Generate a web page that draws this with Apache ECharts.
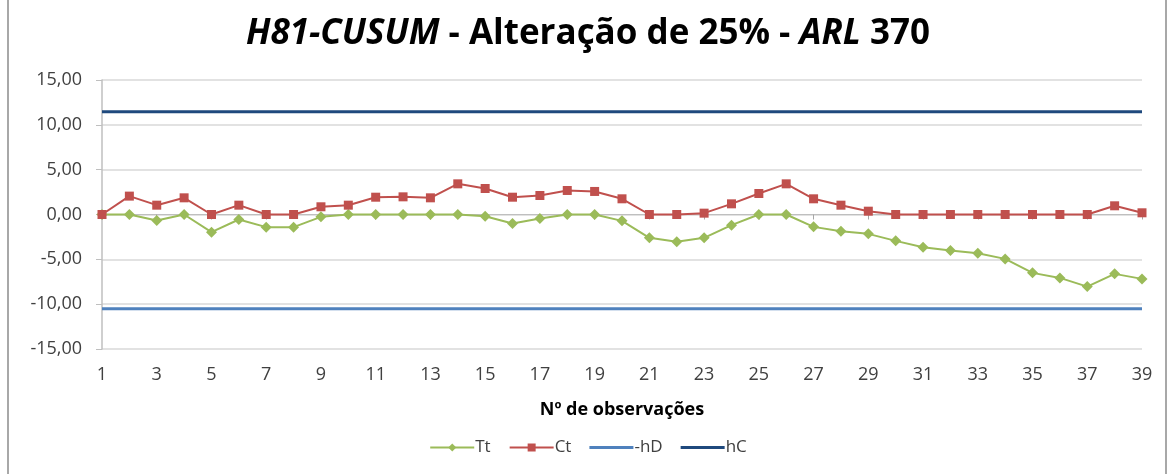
<!DOCTYPE html>
<html><head><meta charset="utf-8">
<script src="https://cdn.jsdelivr.net/npm/echarts@6/dist/echarts.min.js"></script>
<style>html,body{margin:0;padding:0;background:#fff}#c{width:1176px;height:474px}</style>
</head><body><div id="c"></div>
<script>
const categories = Array.from({length:39},(_, i)=>String(i+1));
const Tt = [0,0,-0.67,0,-1.97,-0.56,-1.41,-1.41,-0.26,0,0,0,0,0,-0.19,-1.0,-0.45,0,0,-0.71,-2.6,-3.05,-2.6,-1.19,0,0,-1.38,-1.86,-2.16,-2.94,-3.65,-4.02,-4.32,-4.95,-6.51,-7.07,-8.04,-6.62,-7.18];
const Ct = [0,2.05,1.04,1.86,0,1.04,0,0,0.86,1.04,1.93,1.97,1.86,3.42,2.9,1.93,2.12,2.68,2.57,1.75,0,0,0.15,1.19,2.34,3.42,1.75,1.04,0.37,0,0,0,0,0,0,0,0,0.97,0.19];
const hDValue = -10.52;
const hCValue = 11.46;
const minusHD = categories.map(()=>hDValue);
const hC = categories.map(()=>hCValue);
const yTicks = {min:-15, max:15, interval:5};

const font = '"Open Sans", sans-serif';
const lineIcon = 'path://M0,0H44V3.2H0Z';
const chart = echarts.init(document.getElementById('c'));
chart.setOption({
  animation:false,
  backgroundColor:'#fff',
  graphic:[{type:'rect',shape:{x:8,y:-5,width:1158,height:490},style:{fill:'none',stroke:'#8c8c8c',lineWidth:1.5},silent:true}],
  title:{
    text:'{i|H81-CUSUM}{n| - Alteração de 25% - }{i|ARL}{n| 370}',
    left:'center', top:12,
    textStyle:{rich:{
      i:{fontFamily:font,fontSize:35,fontWeight:'bold',fontStyle:'italic',color:'#000'},
      n:{fontFamily:font,fontSize:35,fontWeight:'bold',color:'#000'}
    }}
  },
  legend:{
    bottom:13, left:'center', itemWidth:44, itemHeight:10, itemGap:18,
    textStyle:{fontFamily:font,fontSize:17,color:'#404040',padding:[0,0,0,-4]},
    data:[{name:'Tt'},{name:'Ct'},{name:'-hD',icon:lineIcon},{name:'hC',icon:lineIcon}]
  },
  grid:{left:102,right:34,top:80,bottom:125},
  xAxis:[{
    type:'category', data:categories, boundaryGap:false,
    name:'Nº de observações', nameLocation:'middle', nameGap:52,
    nameTextStyle:{fontFamily:font,fontSize:18,fontWeight:'bold',color:'#000'},
    axisLine:{show:false,onZero:false}, axisTick:{show:false},
    axisLabel:{interval:1,fontFamily:font,fontSize:18,color:'#404040',margin:17}
  },{
    type:'category', data:categories, boundaryGap:false, position:'bottom',
    axisLine:{show:true,onZero:true,lineStyle:{color:'#bfbfbf',width:1}},
    axisTick:{show:true,length:5,interval:1,lineStyle:{color:'#a6a6a6'}},
    axisLabel:{show:false}
  }],
  yAxis:{
    type:'value', min:yTicks.min, max:yTicks.max, interval:yTicks.interval,
    axisLine:{show:true,lineStyle:{color:'#bfbfbf',width:1.5}},
    axisTick:{show:true,length:6,lineStyle:{color:'#bfbfbf'}},
    splitLine:{lineStyle:{color:'#d9d9d9',width:1.5}},
    axisLabel:{fontFamily:font,fontSize:18,color:'#404040',margin:20,
      formatter:v=>v.toFixed(2).replace('.',',')}
  },
  series:[
    {name:'Tt',type:'line',data:Tt,symbol:'diamond',symbolSize:11,
     lineStyle:{color:'#9BBB59',width:2},itemStyle:{color:'#9BBB59'},z:4},
    {name:'Ct',type:'line',data:Ct,symbol:'rect',symbolSize:9,
     lineStyle:{color:'#C0504D',width:2},itemStyle:{color:'#C0504D'},z:5},
    {name:'-hD',type:'line',data:minusHD,symbol:'none',
     lineStyle:{color:'#4F81BD',width:3},itemStyle:{color:'#4F81BD'}},
    {name:'hC',type:'line',data:hC,symbol:'none',
     lineStyle:{color:'#1F497D',width:3},itemStyle:{color:'#1F497D'}}
  ]
});
</script></body></html>
